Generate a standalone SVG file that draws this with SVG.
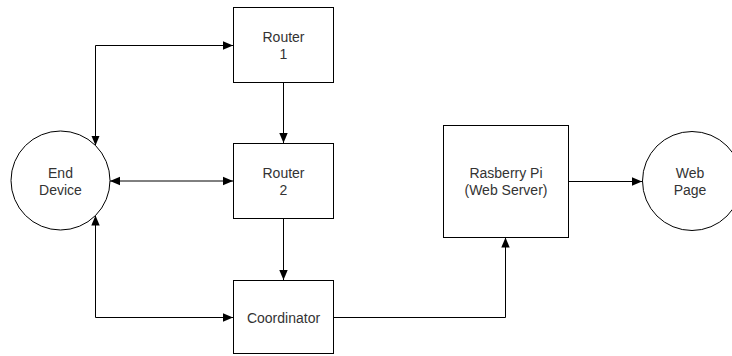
<svg xmlns="http://www.w3.org/2000/svg" width="732" height="356" viewBox="0 0 732 356">
  <style>
    .box { fill: #ffffff; stroke: #000000; stroke-width: 1; }
    .label { font-family: "Liberation Sans", Arial, Helvetica, sans-serif; font-size: 14px; fill: #333333; text-anchor: middle; }
    .edge { fill: none; stroke: #000000; stroke-width: 1; }
  </style>
  <defs>
    <marker id="arrow" viewBox="0 0 10 10" refX="10" refY="5" markerWidth="10" markerHeight="10" markerUnits="userSpaceOnUse" orient="auto-start-reverse">
      <path d="M0,0.8 L10,5 L0,9.2 Z" fill="#000000"/>
    </marker>
  </defs>
  <rect width="732" height="356" fill="#ffffff"/>

  <g id="connectors">
    <!-- End Device <-> Router 1 -->
    <path class="edge" d="M95.5,145.5 V45.5 H233" marker-start="url(#arrow)" marker-end="url(#arrow)"/>
    <!-- End Device <-> Router 2 -->
    <path class="edge" d="M110,181 H233" marker-start="url(#arrow)" marker-end="url(#arrow)"/>
    <!-- End Device <-> Coordinator -->
    <path class="edge" d="M95.5,215.5 V317.5 H233" marker-start="url(#arrow)" marker-end="url(#arrow)"/>
    <!-- Router 1 -> Router 2 -->
    <path class="edge" d="M283.5,82.5 V143" marker-end="url(#arrow)"/>
    <!-- Router 2 -> Coordinator -->
    <path class="edge" d="M283.5,218.5 V280" marker-end="url(#arrow)"/>
    <!-- Coordinator -> Rasberry Pi -->
    <path class="edge" d="M333.5,317.5 H505.5 V237.5" marker-end="url(#arrow)"/>
    <!-- Rasberry Pi -> Web Page -->
    <path class="edge" d="M568.5,181.5 H642" marker-end="url(#arrow)"/>
  </g>

  <g id="end-device">
    <circle class="box" cx="60.5" cy="180.5" r="49.5"/>
    <text class="label" x="60.5" y="178">End</text>
    <text class="label" x="60.5" y="195">Device</text>
  </g>

  <g id="router-1">
    <rect class="box" x="233.5" y="7.5" width="100" height="75"/>
    <text class="label" x="283.5" y="41.5">Router</text>
    <text class="label" x="283.5" y="58.5">1</text>
  </g>

  <g id="router-2">
    <rect class="box" x="233.5" y="143.5" width="100" height="75"/>
    <text class="label" x="283.5" y="177.5">Router</text>
    <text class="label" x="283.5" y="194.5">2</text>
  </g>

  <g id="coordinator">
    <rect class="box" x="233.5" y="280.5" width="100" height="73"/>
    <text class="label" x="283.5" y="322.5">Coordinator</text>
  </g>

  <g id="rasberry-pi">
    <rect class="box" x="443.5" y="125.5" width="125" height="112"/>
    <text class="label" x="506" y="177.5">Rasberry Pi</text>
    <text class="label" x="506" y="194.5">(Web Server)</text>
  </g>

  <g id="web-page">
    <circle class="box" cx="692" cy="181" r="49.5"/>
    <text class="label" x="690" y="178">Web</text>
    <text class="label" x="690" y="195">Page</text>
  </g>
</svg>
